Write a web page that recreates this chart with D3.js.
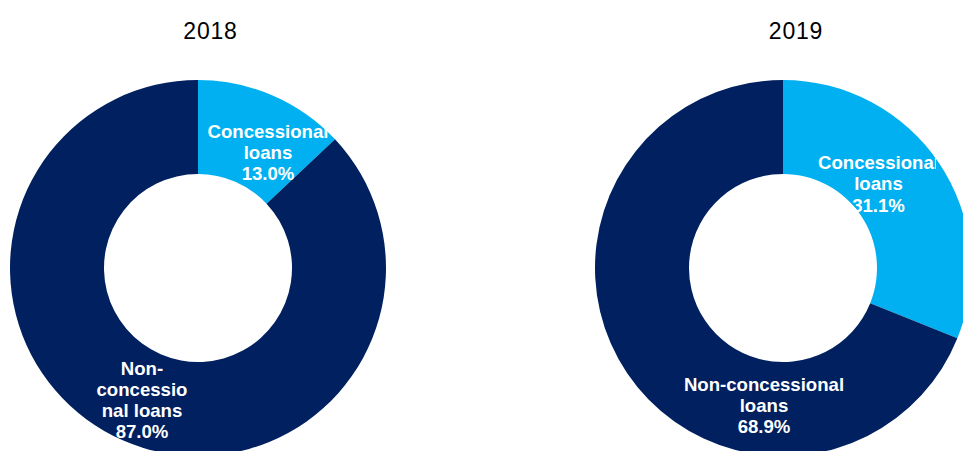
<!DOCTYPE html>
<html>
<head>
<meta charset="utf-8">
<script src="https://cdn.jsdelivr.net/npm/d3@7"></script>
<style>
  html, body { margin: 0; padding: 0; background: #fff; }
  svg { display: block; }
</style>
</head>
<body>
<svg id="chart" width="963" height="451"></svg>
<script>
// Loan composition by year (share of total, %)
const years = ["2018", "2019"];
const categories = ["Concessional loans", "Non-concessional loans"];
const concessional = [13.0, 31.1];
const nonConcessional = [87.0, 68.9];
const colors = ["#00B0F0", "#002060"];

// Label line breaks as printed inside each slice
const labelLines = [
  [["Concessional", "loans"], ["Non-", "concessio", "nal loans"]],
  [["Concessional", "loans"], ["Non-concessional", "loans"]]
];

const svg = d3.select("#chart");
const W = 963, H = 451;

const layout = [
  { cx: 198, cy: 268, titleX: 210.5 },
  { cx: 783, cy: 268, titleX: 796 }
];
const outerR = 188, innerR = 94;

const pie = d3.pie().sort(null).value(d => d.value);
const arc = d3.arc().innerRadius(innerR).outerRadius(outerR);

// label anchor offsets (relative to donut center) per donut / slice
const labelPos = [
  [{ dx: 70, dy: -130.5 }, { dx: -56, dy: 106.5 }],
  [{ dx: 95.5, dy: -99 }, { dx: -19, dy: 122.5 }]
];
// right-hand edge of each label box
const labelClip = [[328, null], [936, null]];
const lineStep = 21.3;

years.forEach((yr, i) => {
  const L = layout[i];
  const data = [
    { cat: categories[0], value: concessional[i] },
    { cat: categories[1], value: nonConcessional[i] }
  ];
  const g = svg.append("g").attr("transform", `translate(${L.cx},${L.cy})`);

  g.selectAll("path.slice")
    .data(pie(data))
    .join("path")
    .attr("class", "slice")
    .attr("d", arc)
    .attr("fill", (d, j) => colors[j]);

  svg.append("text")
    .attr("x", L.titleX)
    .attr("y", 38.5)
    .attr("text-anchor", "middle")
    .attr("font-family", "Liberation Sans, Arial, sans-serif")
    .attr("font-size", 23)
    .attr("letter-spacing", 0.8)
    .attr("fill", "#000")
    .text(yr);

  data.forEach((d, j) => {
    const p = labelPos[i][j];
    const lines = labelLines[i][j].concat([d.value.toFixed(1) + "%"]);
    const clipX = labelClip[i][j];
    let clipId = null;
    if (clipX !== null) {
      clipId = `lblclip-${i}-${j}`;
      svg.append("clipPath").attr("id", clipId)
        .append("rect")
        .attr("x", 0).attr("y", 0)
        .attr("width", clipX).attr("height", H);
    }
    const t = svg.append("text")
      .attr("text-anchor", "middle")
      .attr("font-family", "Liberation Sans, Arial, sans-serif")
      .attr("font-weight", "bold")
      .attr("font-size", 18.6)
      .attr("fill", "#fff");
    if (clipId) t.attr("clip-path", `url(#${clipId})`);
    lines.forEach((ln, k) => {
      t.append("tspan")
        .attr("x", L.cx + p.dx)
        .attr("y", L.cy + p.dy + k * lineStep)
        .text(ln);
    });
  });
});
</script>
</body>
</html>
